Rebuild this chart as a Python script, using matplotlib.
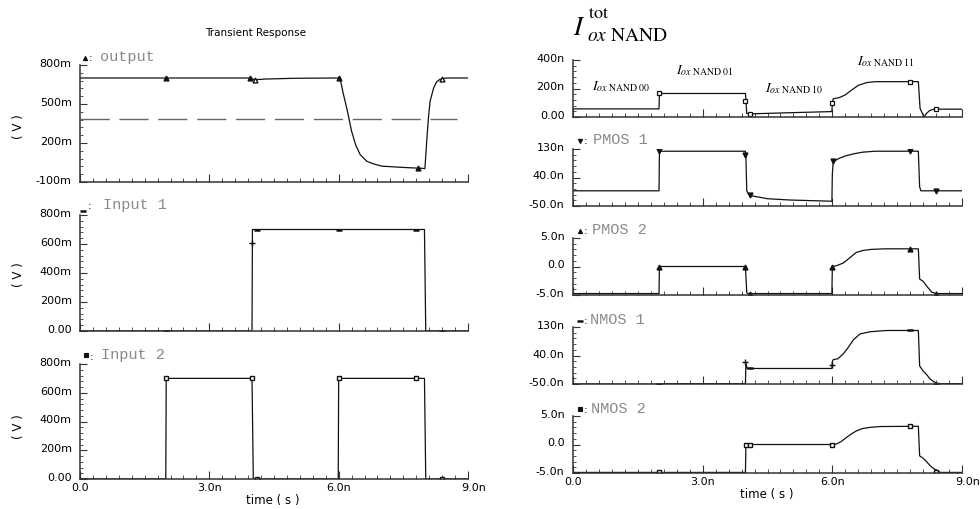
import matplotlib
matplotlib.use('Agg')
import matplotlib.pyplot as plt
import matplotlib.transforms as mtrans
from matplotlib.lines import Line2D
from matplotlib.ticker import MultipleLocator, AutoMinorLocator

plt.rcParams['mathtext.fontset'] = 'stix'
plt.rcParams['font.family'] = ['DejaVu Sans']

W, H = 980, 510

# ---- shared x axis (ns) ----
x_ticks = [0, 3, 6, 9]
x_labels = ['0.0', '3.0n', '6.0n', '9.0n']

# ---- left: voltages (V) ----
out_t = [0, 2.0, 3.95, 4.02, 4.08, 4.3, 5.0, 6.0, 6.05, 6.1, 6.2, 6.3, 6.4, 6.5, 6.65, 6.8,
         7.0, 7.5, 7.95, 8.0, 8.02, 8.05, 8.08, 8.12, 8.2, 8.27, 8.35, 8.5, 9.0]
out_v = [0.70, 0.70, 0.70, 0.69, 0.687, 0.692, 0.698, 0.70, 0.67, 0.59, 0.45, 0.29, 0.18, 0.11,
         0.06, 0.04, 0.022, 0.012, 0.005, 0.003, 0.10, 0.25, 0.385, 0.52, 0.62, 0.67, 0.69, 0.70, 0.70]
out_mk_t = [2.0, 3.95, 6.0, 7.85]
out_mk_v = [0.70, 0.70, 0.70, 0.005]
out_open_t = [4.05, 8.4]
out_open_v = [0.688, 0.695]
vdd_half = 0.385

in1_t = [0, 3.99, 4.0, 7.99, 8.02, 9.0]
in1_v = [0, 0, 0.70, 0.70, 0, 0]
in1_mk_t = [2.0, 4.1, 6.0, 7.8, 8.4]
in1_mk_v = [0, 0.70, 0.70, 0.70, 0]
in1_plus = (3.98, 0.61)

in2_t = [0, 1.99, 2.0, 3.99, 4.02, 5.99, 6.0, 7.99, 8.02, 9.0]
in2_v = [0, 0, 0.70, 0.70, 0, 0, 0.70, 0.70, 0, 0]
in2_mk_t = [2.0, 4.0, 4.1, 6.0, 7.8, 8.4]
in2_mk_v = [0.70, 0.70, 0, 0.70, 0.70, 0]

# ---- right: gate oxide currents (nA) ----
tot_t = [0, 1.99, 2.0, 3.99, 4.0, 4.02, 4.1, 5.0, 5.99, 6.0, 6.02, 6.15, 6.3, 6.45, 6.6, 6.8,
         7.0, 7.99, 8.03, 8.12, 8.18, 8.25, 8.33, 8.4, 9.0]
tot_v = [57, 57, 165, 165, 125, 25, 22, 30, 38, 100, 128, 135, 155, 190, 222, 242,
         248, 248, 60, 0, 25, 45, 53, 55, 55]
tot_mk_t = [2.0, 3.98, 4.1, 6.0, 7.8, 8.4]
tot_mk_v = [165, 115, 22, 95, 248, 55]

p1_t = [0, 1.99, 2.0, 3.99, 4.0, 4.02, 4.06, 4.1, 4.5, 5.0, 5.99, 6.0, 6.02, 6.15, 6.3,
        6.5, 6.7, 7.0, 7.99, 8.02, 8.05, 9.0]
p1_v = [-2, -2, 123, 123, 107, -2, -12, -17, -27, -31, -35, 50, 90, 100, 108,
        115, 120, 123, 123, 10, -2, -2]
p1_mk_t = [2.0, 3.98, 4.1, 6.02, 7.8, 8.4]
p1_mk_v = [123, 110, -15, 91, 123, -2]

p2_t = [0, 1.99, 2.0, 3.99, 4.02, 4.05, 5.99, 6.0, 6.1, 6.25, 6.4, 6.55, 6.7, 6.9, 7.2,
        7.99, 8.02, 8.1, 8.2, 8.3, 8.4, 9.0]
p2_v = [-4.75, -4.75, 0, 0, -4.6, -4.75, -4.75, 0, 0.15, 0.6, 1.5, 2.45, 2.8, 3.0, 3.1,
        3.1, -2.2, -2.6, -3.6, -4.5, -4.75, -4.75]
p2_mk_t = [2.0, 3.98, 4.1, 6.0, 7.8, 8.4]
p2_mk_v = [0, 0, -4.75, 0, 3.1, -4.75]

n1_t = [0, 2.0, 2.1, 3.99, 4.0, 4.03, 5.99, 6.0, 6.02, 6.13, 6.25, 6.35, 6.49, 6.64, 6.87,
        7.26, 7.99, 8.02, 8.1, 8.18, 8.26, 8.34, 8.41, 8.5, 9.0]
n1_v = [-50, -51, -49, -49, 15, -1, -1, 20, 27, 30, 45, 62, 90, 108, 115,
        119, 119, 7, -9, -20, -34, -42, -47, -49, -49]
n1_mk_t = [2.0, 4.1, 7.8, 8.4]
n1_mk_v = [-50, -1, 119, -49]
n1_plus_t = [3.98, 6.0]
n1_plus_v = [19, 9]

n2_t = [0, 3.99, 4.0, 5.99, 6.1, 6.2, 6.33, 6.45, 6.56, 6.7, 6.87, 7.1, 7.99, 8.02, 8.1,
        8.18, 8.26, 8.34, 8.41, 8.5, 9.0]
n2_v = [-4.9, -4.9, 0, 0, 0.1, 0.5, 1.25, 1.9, 2.4, 2.8, 3.0, 3.15, 3.2, -2.0, -2.4,
        -3.0, -3.7, -4.2, -4.5, -4.9, -4.9]
n2_mk_t = [2.0, 4.0, 4.1, 6.0, 7.8, 8.4]
n2_mk_v = [-4.9, 0, 0, 0, 3.2, -4.9]

LINE = '#111111'
AXC = '#333333'
GRAY = '#8a8a8a'

fig = plt.figure(figsize=(W / 100, H / 100), dpi=100)


def px_axes(x0, x1, ytop, ybot):
    return fig.add_axes([x0 / W, 1 - ybot / H, (x1 - x0) / W, (ybot - ytop) / H])


def fpos(x, y):
    return x / W, 1 - y / H


def style(ax, ylim, yticks, ylabels, bottom=False):
    ax.set_xlim(0, 9)
    ax.set_ylim(*ylim)
    for s in ('top', 'right'):
        ax.spines[s].set_visible(False)
    for s in ('left', 'bottom'):
        ax.spines[s].set_color(AXC)
        ax.spines[s].set_linewidth(1.1)
    ax.set_yticks(yticks)
    ax.set_yticklabels(ylabels)
    ax.yaxis.set_minor_locator(AutoMinorLocator(5))
    ax.set_xticks(x_ticks)
    ax.xaxis.set_minor_locator(MultipleLocator(0.3))
    ax.tick_params(which='both', direction='in', colors=AXC, labelcolor='black', labelsize=8)
    ax.tick_params(axis='y', which='major', length=5, pad=6)
    ax.tick_params(axis='y', which='minor', length=2.5)
    ax.tick_params(axis='x', which='major', length=6, pad=2.5)
    ax.tick_params(axis='x', which='minor', length=3)
    up = mtrans.ScaledTranslation(0, 3 / 100, fig.dpi_scale_trans)
    for lab in ax.get_yticklabels():
        lab.set_transform(lab.get_transform() + up)
    if bottom:
        ax.set_xticklabels(x_labels)
        right = mtrans.ScaledTranslation(6 / 100, 0, fig.dpi_scale_trans)
        last = ax.get_xticklabels()[-1]
        last.set_transform(last.get_transform() + right)
    else:
        ax.set_xticklabels([])


def legend(xm, ym, marker, ms, mew, xc, xl, yb, label):
    fig.add_artist(Line2D([xm / W], [1 - ym / H], marker=marker, ms=ms, mew=mew,
                          color=LINE, transform=fig.transFigure))
    fig.text(*fpos(xc, yb), ':', fontsize=8, va='baseline', ha='left')
    fig.text(*fpos(xl, yb), label, family='Liberation Mono', fontsize=11,
             color=GRAY, va='baseline', ha='left')


def trace(ax, t, v):
    ax.plot(t, v, color=LINE, lw=0.9)


# ---------------- left column ----------------
ax1 = px_axes(80, 468, 66, 183)
trace(ax1, out_t, out_v)
ax1.plot([0, 8.75], [vdd_half, vdd_half], color='#666666', lw=1.0, dashes=(21, 7))
ax1.plot(out_mk_t, out_mk_v, ls='none', marker='^', ms=3.5, color=LINE)
ax1.plot(out_open_t, out_open_v, ls='none', marker='^', ms=3.5, color=LINE, mfc='white')
style(ax1, (-0.1, 0.8), [-0.1, 0.2, 0.5, 0.8], ['-100m', '200m', '500m', '800m'])
legend(85, 59, '^', 3, 0.8, 88.5, 100, 61, 'output')

ax2 = px_axes(80, 468, 216, 332)
trace(ax2, in1_t, in1_v)
ax2.plot(in1_mk_t, in1_mk_v, ls='none', marker='_', ms=4, mew=1.8, color=LINE)
ax2.plot([in1_plus[0]], [in1_plus[1]], ls='none', marker='+', ms=4, mew=1.0, color=LINE)
style(ax2, (0, 0.8), [0, 0.2, 0.4, 0.6, 0.8], ['0.00', '200m', '400m', '600m', '800m'])
legend(83, 211.5, '_', 4, 1.8, 88, 103, 209.5, 'Input 1')

ax3 = px_axes(80, 468, 365, 480)
trace(ax3, in2_t, in2_v)
ax3.plot(in2_mk_t, in2_mk_v, ls='none', marker='s', ms=2.5, color=LINE, mfc='white')
style(ax3, (0, 0.8), [0, 0.2, 0.4, 0.6, 0.8], ['0.00', '200m', '400m', '600m', '800m'],
      bottom=True)
legend(86, 356, 's', 2.2, 0.8, 89.5, 101, 359.5, 'Input 2')

fig.text(*fpos(256, 33), 'Transient Response', fontsize=7.5, ha='center', va='center')
for yc in (127, 275, 427):
    fig.text(*fpos(18, yc), '( V )', fontsize=8.5, rotation=90, ha='center', va='center')
fig.text(*fpos(273, 501), 'time ( s )', fontsize=8.5, ha='center', va='center')

# ---------------- right column ----------------
r1 = px_axes(573, 962, 61, 118)
trace(r1, tot_t, tot_v)
r1.plot(tot_mk_t, tot_mk_v, ls='none', marker='s', ms=3, mew=0.9, color=LINE, mfc='white')
style(r1, (0, 400), [0, 200, 400], ['0.00', '200n', '400n'])
r1_notes = [('00', 0.43, 195), ('01', 2.38, 308), ('10', 4.44, 183), ('11', 6.56, 372)]
for code, tx, vy in r1_notes:
    r1.text(tx, vy, r'$I_{ox\ \mathrm{NAND\ ' + code + r'}}$', fontsize=10,
            va='baseline', ha='left', clip_on=False)

fig.text(*fpos(573, 35), r'$I$', fontsize=19, va='baseline', ha='left')
fig.text(*fpos(588, 18), r'$\mathrm{tot}$', fontsize=13, va='baseline', ha='left')
fig.text(*fpos(587, 41), r'$ox\ \mathrm{NAND}$', fontsize=14, va='baseline', ha='left')

r2 = px_axes(573, 962, 150, 207)
trace(r2, p1_t, p1_v)
r2.plot(p1_mk_t, p1_mk_v, ls='none', marker='v', ms=3.5, color=LINE)
style(r2, (-50, 130), [-50, 40, 130], ['-50.0n', '40.0n', '130n'])
legend(579.5, 142, 'v', 3, 0.8, 583.5, 593, 143.5, 'PMOS 1')

r3 = px_axes(573, 962, 239, 296)
trace(r3, p2_t, p2_v)
r3.plot(p2_mk_t, p2_mk_v, ls='none', marker='^', ms=3.5, color=LINE)
style(r3, (-5, 5), [-5, 0, 5], ['-5.0n', '0.0', '5.0n'])
legend(579.5, 231.5, '^', 3, 0.8, 583.5, 592, 234.5, 'PMOS 2')

r4 = px_axes(573, 962, 328, 385)
trace(r4, n1_t, n1_v)
r4.plot(n1_mk_t, n1_mk_v, ls='none', marker='_', ms=4, mew=1.8, color=LINE)
r4.plot(n1_plus_t, n1_plus_v, ls='none', marker='+', ms=4, mew=1.0, color=LINE)
style(r4, (-50, 130), [-50, 40, 130], ['-50.0n', '40.0n', '130n'])
legend(580, 321.5, '_', 4.5, 1.8, 583.5, 590, 324.5, 'NMOS 1')

r5 = px_axes(573, 962, 417, 474)
trace(r5, n2_t, n2_v)
r5.plot(n2_mk_t, n2_mk_v, ls='none', marker='s', ms=2.5, color=LINE, mfc='white')
style(r5, (-5, 5), [-5, 0, 5], ['-5.0n', '0.0', '5.0n'], bottom=True)
legend(579.5, 410, 's', 2.2, 0.8, 583.5, 591, 413.5, 'NMOS 2')

fig.text(*fpos(767, 495), 'time ( s )', fontsize=8.5, ha='center', va='center')

fig.savefig('out.png', dpi=100)
